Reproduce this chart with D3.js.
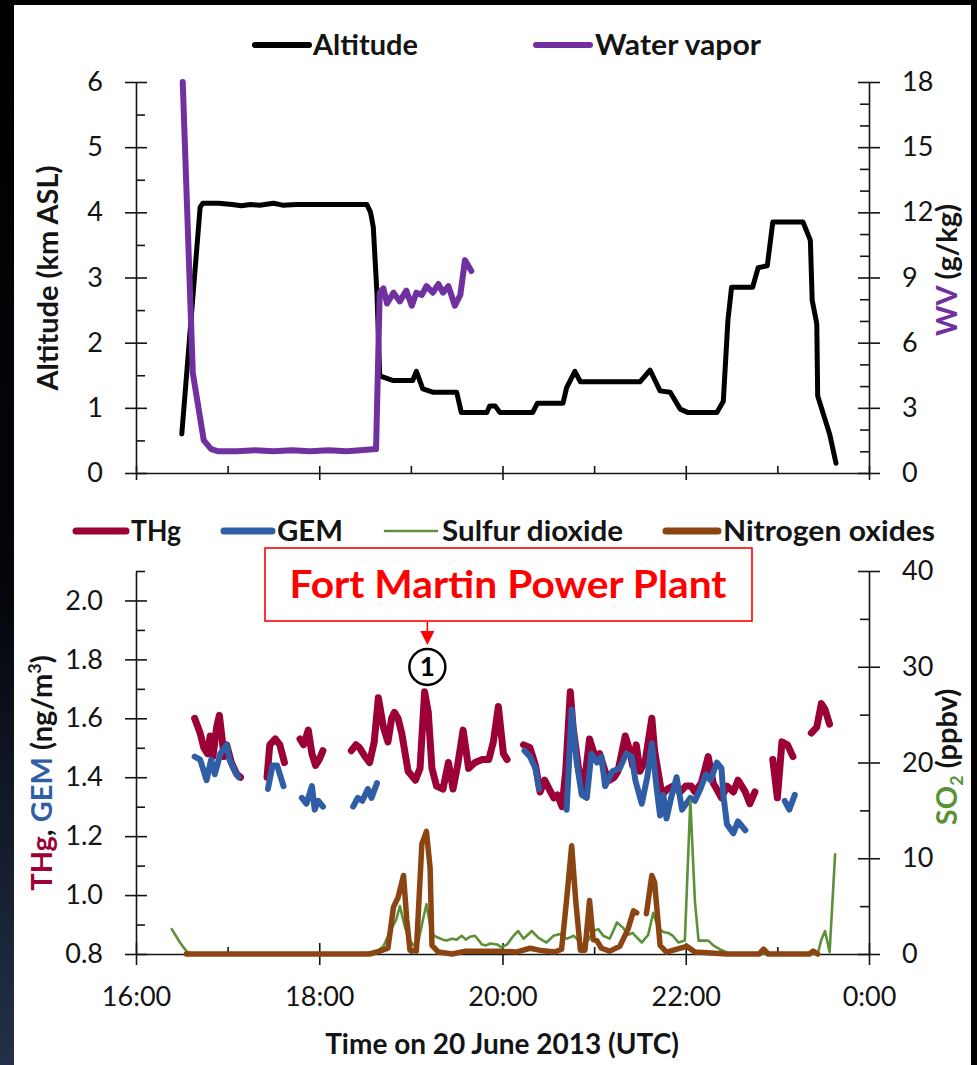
<!DOCTYPE html>
<html>
<head>
<meta charset="utf-8">
<script src="https://cdn.jsdelivr.net/npm/d3@7"></script>
<style>
  html, body { margin: 0; padding: 0; background: #000; }
  svg { display: block; }
  text { font-family: Lato, "Open Sans", sans-serif; }
</style>
</head>
<body>
<svg id="chart" width="977" height="1065"></svg>
<script>
// ---- Flight data, 20 June 2013 (time in decimal hours UTC) ----

// Aircraft altitude (km ASL)
const altTime = [16.50,16.70,16.73,16.90,17.05,17.15,17.25,17.35,17.50,17.60,17.75,18.00,18.30,18.52,18.56,18.59,18.63,18.66,18.80,19.02,19.06,19.13,19.24,19.50,19.55,19.83,19.86,19.92,19.97,20.33,20.38,20.66,20.70,20.79,20.85,21.50,21.61,21.72,21.83,21.94,22.02,22.34,22.41,22.46,22.50,22.73,22.79,22.89,22.95,23.28,23.36,23.38,23.43,23.44,23.57,23.64];
const altKm   = [0.60,4.08,4.14,4.14,4.12,4.10,4.12,4.11,4.14,4.11,4.12,4.12,4.12,4.12,4.00,3.77,2.75,1.49,1.42,1.42,1.56,1.29,1.24,1.24,0.93,0.93,1.03,1.03,0.93,0.93,1.07,1.07,1.31,1.56,1.40,1.40,1.58,1.26,1.24,0.98,0.93,0.93,1.10,2.34,2.85,2.85,3.15,3.18,3.85,3.85,3.57,2.65,2.29,1.18,0.60,0.15];

// Water vapor mixing ratio (g/kg)
const wvTime = [16.51,16.62,16.74,16.82,16.90,17.10,17.30,17.50,17.70,17.90,18.10,18.30,18.45,18.62,18.66,18.70,18.74,18.81,18.88,18.95,19.01,19.06,19.12,19.17,19.24,19.30,19.35,19.41,19.48,19.54,19.59,19.66];
const wvGkg  = [18.0,4.6,1.5,1.1,1.0,1.0,1.05,1.0,1.05,1.0,1.05,1.0,1.05,1.1,8.3,8.5,7.8,8.3,7.9,8.4,7.7,8.3,8.2,8.6,8.3,8.7,8.3,8.6,7.7,8.2,9.8,9.3];

// Total mercury (ng/m3); null marks a gap in the record
const thgTime = [16.64,16.70,16.74,16.78,16.81,16.84,16.88,16.91,16.94,16.96,16.99,17.04,17.10,17.14,null,
  17.43,17.46,17.52,17.57,17.62,null,
  17.79,17.83,17.88,17.92,17.96,18.00,18.04,null,
  18.35,18.40,18.44,18.50,18.55,18.60,18.645,18.70,18.75,18.79,18.82,18.86,18.90,18.97,19.05,19.10,19.15,19.19,19.23,19.28,19.35,19.41,19.46,19.51,19.57,19.63,19.70,19.78,19.85,19.90,19.955,20.01,20.05,null,
  20.23,20.30,20.36,20.41,20.46,20.51,20.56,20.60,20.65,20.69,20.74,20.77,20.83,20.88,20.92,20.95,21.01,21.06,21.12,21.17,21.22,21.26,21.34,21.39,21.42,21.46,21.50,21.56,21.63,21.66,21.74,21.80,21.86,21.94,22.00,22.06,22.10,22.17,22.245,22.30,22.355,22.39,22.45,22.52,22.57,22.65,22.70,22.755,null,
  22.95,23.00,23.05,23.11,23.17,null,
  23.37,23.43,23.48,23.52,23.57];
const thgValue = [1.60,1.55,1.50,1.48,1.54,1.47,1.57,1.61,1.53,1.47,1.51,1.45,1.41,1.40,null,
  1.40,1.51,1.53,1.51,1.45,null,
  1.53,1.51,1.56,1.48,1.44,1.46,1.49,null,
  1.49,1.51,1.50,1.47,1.45,1.52,1.67,1.57,1.52,1.60,1.62,1.60,1.55,1.42,1.39,1.43,1.69,1.62,1.43,1.37,1.36,1.45,1.36,1.44,1.56,1.43,1.45,1.46,1.46,1.52,1.64,1.48,1.46,null,
  1.51,1.50,1.44,1.35,1.39,1.36,1.33,1.34,1.30,1.42,1.69,1.57,1.43,1.35,1.45,1.53,1.47,1.48,1.42,1.39,1.40,1.42,1.54,1.49,1.44,1.51,1.42,1.46,1.60,1.49,1.34,1.36,1.37,1.35,1.37,1.37,1.35,1.38,1.47,1.38,1.35,1.33,1.37,1.35,1.39,1.35,1.31,1.35,null,
  1.46,1.33,1.52,1.51,1.47,null,
  1.55,1.57,1.65,1.63,1.58];

// Gaseous elemental mercury (ng/m3)
const gemTime = [16.64,16.70,16.77,16.82,16.86,16.92,16.99,17.02,17.08,17.12,null,
  17.44,17.49,17.54,17.61,null,
  17.81,17.86,17.92,17.95,17.99,18.04,null,
  18.37,18.42,18.47,18.53,18.57,18.63,null,
  20.24,20.30,20.36,20.40,null,
  20.70,20.755,20.81,20.865,20.92,20.97,21.03,21.08,21.12,21.20,21.28,21.35,21.41,21.45,21.52,21.58,21.63,21.68,21.72,21.755,21.79,21.84,21.90,21.96,22.05,22.10,22.16,22.22,22.27,22.34,22.39,22.41,22.45,22.52,22.57,22.65,null,
  23.08,23.13,23.19];
const gemValue = [1.47,1.46,1.39,1.46,1.41,1.48,1.51,1.46,1.42,1.40,null,
  1.36,1.44,1.44,1.37,null,
  1.33,1.31,1.37,1.29,1.32,1.30,null,
  1.30,1.33,1.32,1.36,1.33,1.38,null,
  1.49,1.47,1.43,1.36,null,
  1.29,1.63,1.45,1.34,1.33,1.48,1.45,1.47,1.37,1.42,1.43,1.48,1.47,1.39,1.31,1.40,1.515,1.37,1.27,1.34,1.26,1.33,1.40,1.29,1.33,1.32,1.36,1.41,1.39,1.45,1.43,1.34,1.24,1.21,1.25,1.22,null,
  1.32,1.29,1.34];

// Sulfur dioxide (ppbv)
const so2Time = [16.39,16.48,16.55,16.60,17.20,17.80,18.40,18.62,18.70,18.77,18.84,18.88,18.93,18.98,19.03,19.08,19.13,19.17,19.21,19.25,19.30,19.35,19.39,19.45,19.50,19.555,19.60,19.645,19.70,19.775,19.82,19.865,19.94,19.99,20.05,20.12,20.17,20.23,20.32,20.39,20.48,20.555,20.63,20.70,20.78,20.88,20.94,20.99,21.045,21.10,21.17,21.25,21.32,21.37,21.42,21.45,21.52,21.59,21.645,21.70,21.755,21.81,21.86,21.92,21.99,22.05,22.10,22.14,22.245,22.30,22.37,22.48,23.00,23.44,23.48,23.52,23.57,23.63];
const so2Ppbv = [2.6,1.2,0.3,0,0,0,0,0.2,0.8,2.3,3.6,5.0,3.0,1.5,0.9,1.2,3.5,5.2,3.0,1.9,1.7,1.5,1.4,1.6,1.5,1.9,1.5,1.8,1.9,1.0,0.9,1.1,1.0,0.7,1.0,1.9,2.4,1.6,2.4,1.7,1.2,1.9,2.1,1.6,1.9,0.9,1.5,2.4,2.6,1.9,1.6,3.3,2.7,2.0,2.2,1.9,1.2,2.0,4.3,2.7,2.3,2.2,1.9,1.2,1.4,16.0,5.5,1.4,1.4,0.9,0.5,0,0,0,1.5,2.4,0.2,10.4];

// Nitrogen oxides (ppbv)
const noxTime = [16.55,17.20,17.80,18.40,18.55,18.66,18.75,18.81,18.86,18.92,18.955,18.99,19.06,19.12,19.17,19.21,19.23,19.30,19.45,19.60,19.80,19.97,20.15,20.30,20.40,20.57,20.645,20.70,20.755,20.80,20.85,20.90,20.95,20.99,21.03,21.08,21.17,21.28,21.37,21.43,21.465,null,21.57,21.63,21.66,21.72,21.79,22.01,22.10,22.45,22.80,22.85,22.90,23.35,23.39,23.44];
const noxPpbv = [0,0,0,0,0,0.3,0.6,4.9,5.9,8.2,3.6,0.4,0.3,11.5,12.8,9.0,0.9,0.2,0,0.3,0.3,0.3,0.2,0.6,0.4,0.2,0.5,5.7,11.3,5.5,0.4,0.4,5.6,1.5,1.4,0.6,0.3,0.8,2.6,4.5,4.3,null,4.2,8.2,7.5,0.9,0.2,0.8,0.2,0,0,0.5,0,0,0.3,0];

// Axis ticks
const timeMajor = [16, 18, 20, 22, 24];
const timeMinor = [17, 19, 21, 23];
const timeLabels = ["16:00", "18:00", "20:00", "22:00", "0:00"];
const altMajor = [0, 1, 2, 3, 4, 5, 6];
const altMinor = [0.5, 1.5, 2.5, 3.5, 4.5, 5.5];
const wvMajor = [0, 3, 6, 9, 12, 15, 18];
const wvMinor = [1, 2, 4, 5, 7, 8, 10, 11, 13, 14, 16, 17];
const hgMajor = [0.8, 1.0, 1.2, 1.4, 1.6, 1.8, 2.0];
const hgMinor = [0.9, 1.1, 1.3, 1.5, 1.7, 1.9, 2.1];
const so2Major = [0, 10, 20, 30, 40];
const so2Minor = [5, 15, 25, 35];

// Plume annotation
const plumeName = "Fort Martin Power Plant";
const plumeTime = 19.18;

// ---- Colours ----
const C = {
  alt: "#000000", wv: "#7030a0", thg: "#9b0036", gem: "#2f5ea6",
  so2: "#5b9139", nox: "#8b4513", ink: "#141414", red: "#ff0000"
};

const svg = d3.select("#chart");

// slide backdrop
const defs = svg.append("defs");
const grad = defs.append("linearGradient").attr("id", "edge").attr("x1", 0).attr("y1", 0).attr("x2", 0).attr("y2", 1);
grad.append("stop").attr("offset", "0%").attr("stop-color", "#000");
grad.append("stop").attr("offset", "55%").attr("stop-color", "#03050a");
grad.append("stop").attr("offset", "100%").attr("stop-color", "#233049");
svg.append("rect").attr("width", 977).attr("height", 1065).attr("fill", "#000");
svg.append("rect").attr("width", 14).attr("height", 1065).attr("fill", "url(#edge)");
svg.append("rect").attr("x", 14).attr("y", 5).attr("width", 957).attr("height", 1060).attr("fill", "#fff");

// ---- Scales ----
const x = d3.scaleLinear().domain([16, 24]).range([136, 869]);
const yAlt = d3.scaleLinear().domain([0, 6]).range([473, 82]);
const yWV = d3.scaleLinear().domain([0, 18]).range([473, 82]);
const yHg = d3.scaleLinear().domain([0.8, 2.1]).range([954, 571]);
const ySO2 = d3.scaleLinear().domain([0, 40]).range([954, 571]);

function styleAxis(g) {
  g.selectAll("path, line").attr("stroke", C.ink).attr("stroke-width", 1.6);
  g.selectAll("text").attr("font-size", 27).attr("fill", C.ink).attr("font-family", "Lato, sans-serif");
}

// vertical axis: labelled major ticks crossing the spine, minor ticks inside
function vAxis(scale, xpos, side, majors, minors, fmt) {
  const make = side === "left" ? d3.axisLeft : d3.axisRight;
  const g = svg.append("g").attr("transform", `translate(${xpos},0)`);
  g.append("g").call(make(scale).tickValues(majors).tickFormat(fmt)
    .tickSizeInner(11).tickSizeOuter(0).tickPadding(22)).call(styleAxis);
  g.append("g").call(make(scale).tickValues(majors).tickFormat("")
    .tickSizeInner(-11).tickSizeOuter(0)).call(styleAxis).select(".domain").remove();
  g.append("g").call(make(scale).tickValues(minors).tickFormat("")
    .tickSizeInner(-9).tickSizeOuter(0)).call(styleAxis).select(".domain").remove();
}

// horizontal time axis
function tAxis(ypos, majorLen, withLabels) {
  const g = svg.append("g").attr("transform", `translate(0,${ypos})`);
  g.append("g").call(d3.axisBottom(x).tickValues(timeMajor)
    .tickFormat((d, i) => withLabels ? timeLabels[i] : "")
    .tickSizeInner(majorLen).tickSizeOuter(0).tickPadding(22)).call(styleAxis);
  g.append("g").call(d3.axisBottom(x).tickValues(timeMajor).tickFormat("")
    .tickSizeInner(-majorLen).tickSizeOuter(0)).call(styleAxis).select(".domain").remove();
  g.append("g").call(d3.axisBottom(x).tickValues(timeMinor).tickFormat("")
    .tickSizeInner(-7).tickSizeOuter(0)).call(styleAxis).select(".domain").remove();
}

// ---- Upper panel: altitude & water vapor ----
tAxis(473, 7, false);
vAxis(yAlt, 136, "left", altMajor, altMinor, d3.format("d"));
vAxis(yWV, 869, "right", wvMajor, wvMinor, d3.format("d"));

// ---- Lower panel: mercury & trace gases ----
tAxis(954, 11, true);
vAxis(yHg, 136, "left", hgMajor, hgMinor, d3.format(".1f"));
vAxis(ySO2, 869, "right", so2Major, so2Minor, d3.format("d"));

// ---- Series ----
function series(ts, vs, yScale, color, width) {
  const path = d3.line()
    .defined(i => ts[i] != null && vs[i] != null)
    .x(i => x(ts[i]))
    .y(i => yScale(vs[i]));
  svg.append("path")
    .attr("d", path(d3.range(ts.length)))
    .attr("fill", "none")
    .attr("stroke", color)
    .attr("stroke-width", width)
    .attr("stroke-linejoin", "round")
    .attr("stroke-linecap", "round");
}

series(altTime, altKm, yAlt, C.alt, 5);
series(wvTime, wvGkg, yWV, C.wv, 6);

series(thgTime, thgValue, yHg, C.thg, 7);
series(gemTime, gemValue, yHg, C.gem, 6);
series(so2Time, so2Ppbv, ySO2, C.so2, 2.6);
series(noxTime, noxPpbv, ySO2, C.nox, 5.5);

// ---- Legends ----
function legendItem(x0, x1, y, color, width, label, tx, tlen) {
  svg.append("line").attr("x1", x0).attr("x2", x1).attr("y1", y).attr("y2", y)
    .attr("stroke", color).attr("stroke-width", width).attr("stroke-linecap", "round");
  svg.append("text").attr("x", tx).attr("y", y + 10).text(label)
    .attr("font-size", 28).attr("font-weight", 700).attr("fill", C.ink)
    .attr("textLength", tlen).attr("lengthAdjust", "spacingAndGlyphs");
}
legendItem(255, 309, 45, C.alt, 6, "Altitude", 313, 105);
legendItem(536, 590, 45, C.wv, 6, "Water vapor", 595, 166);
legendItem(76, 126, 531, C.thg, 7, "THg", 131, 50);
legendItem(224, 272, 531, C.gem, 7, "GEM", 277, 66);
legendItem(385, 437, 531, C.so2, 2.6, "Sulfur dioxide", 442, 181);
legendItem(666, 718, 531, C.nox, 7, "Nitrogen oxides", 723, 212);

// ---- Axis titles ----
function vTitle(cx, cy, parts, size) {
  const t = svg.append("text")
    .attr("transform", `translate(${cx},${cy}) rotate(-90)`)
    .attr("text-anchor", "middle")
    .attr("font-size", size).attr("font-weight", 700).attr("fill", C.ink);
  parts.forEach(p => {
    const s = t.append("tspan").text(p.t).attr("fill", p.c || C.ink);
    if (p.sup) s.attr("font-size", size * 0.62).attr("dy", -size * 0.38);
    if (p.sub) s.attr("font-size", size * 0.62).attr("dy", size * 0.2);
    if (p.back) s.attr("dy", p.back);
  });
  return t;
}
vTitle(58, 278, [{ t: "Altitude (km ASL)" }], 29);
vTitle(957, 270, [{ t: "WV", c: C.wv }, { t: " (g/kg)" }], 29);
vTitle(52, 773, [{ t: "THg", c: C.thg }, { t: ", " }, { t: "GEM", c: C.gem }, { t: " (ng/m" },
  { t: "3", sup: true }, { t: ")", back: 29 * 0.38 }], 29);
vTitle(957, 757, [{ t: "SO", c: C.so2 }, { t: "2", c: C.so2, sub: true }, { t: " (ppbv)", back: -29 * 0.2 }], 29);

svg.append("text").attr("x", 502).attr("y", 1054).attr("text-anchor", "middle")
  .attr("font-size", 28).attr("font-weight", 700).attr("fill", C.ink)
  .text("Time on 20 June 2013 (UTC)");

// ---- Plume annotation ----
svg.append("rect").attr("x", 265).attr("y", 548).attr("width", 487).attr("height", 73)
  .attr("fill", "#fff").attr("stroke", C.red).attr("stroke-width", 1.6);
svg.append("text").attr("x", 508).attr("y", 598).attr("text-anchor", "middle")
  .attr("font-size", 38).attr("font-weight", 700).attr("fill", C.red)
  .attr("textLength", 437).attr("lengthAdjust", "spacingAndGlyphs")
  .text(plumeName);
const ax = x(plumeTime);
svg.append("line").attr("x1", ax).attr("x2", ax).attr("y1", 622).attr("y2", 634)
  .attr("stroke", C.red).attr("stroke-width", 1.6);
svg.append("path").attr("d", `M${ax - 7},631 L${ax + 7},631 L${ax},645 Z`).attr("fill", C.red);
svg.append("circle").attr("cx", ax).attr("cy", 667).attr("r", 18)
  .attr("fill", "#fff").attr("stroke", "#000").attr("stroke-width", 2.5);
svg.append("text").attr("x", ax).attr("y", 676).attr("text-anchor", "middle")
  .attr("font-size", 26).attr("font-weight", 700).attr("fill", "#000").text("1");
</script>
</body>
</html>
